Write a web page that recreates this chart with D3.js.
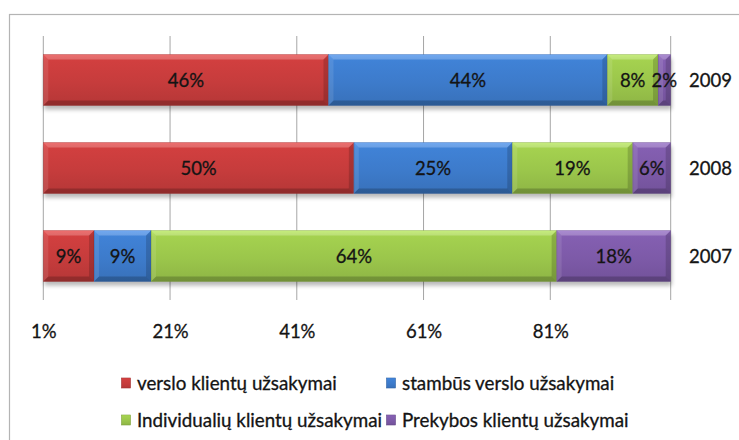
<!DOCTYPE html>
<html>
<head>
<meta charset="utf-8">
<script src="https://cdn.jsdelivr.net/npm/d3@7"></script>
<style>
  html, body { margin: 0; padding: 0; background: #fff; }
  svg { display: block; font-family: Lato, "Open Sans", sans-serif; }
  text { stroke: #141414; stroke-width: 0.3px; }
</style>
</head>
<body>
<svg id="chart" width="739" height="440"></svg>
<script>
// Years, top to bottom
const years = ["2009", "2008", "2007"];
// Order types (stack order, left to right)
const seriesNames = [
  "verslo klientų užsakymai",
  "stambūs verslo užsakymai",
  "Individualių klientų užsakymai",
  "Prekybos klientų užsakymai"
];
// Shares per year, in percent
const verslo      = [46, 50, 9];
const stambus     = [44, 25, 9];
const individual  = [8, 19, 64];
const prekybos    = [2, 6, 18];
// Axis tick values
const tickValues = [0.01, 0.21, 0.41, 0.61, 0.81];
const gridValues = [0.01, 0.21, 0.41, 0.61, 0.81, 1.0];

const colors = ["#c63c3c", "#3d7bcb", "#9bc64b", "#7d5aa8"];
const seriesValues = [verslo, stambus, individual, prekybos];

const rows = years.map((y, i) => {
  const r = { year: y };
  seriesNames.forEach((s, k) => r[s] = seriesValues[k][i] / 100);
  return r;
});
const stacked = d3.stack().keys(seriesNames)(rows);

const svg = d3.select("#chart");
const defs = svg.append("defs");

// Chart frame
svg.append("rect")
  .attr("x", 9.5).attr("y", 14.5)
  .attr("width", 760).attr("height", 460)
  .attr("fill", "#fff").attr("stroke", "#b4b4b4").attr("stroke-width", 1.2);

const x = d3.scaleLinear().domain([0.01, 1.0]).range([43.3, 670.7]).clamp(true);
const y = d3.scaleBand().domain(years).range([36, 300])
  .paddingInner(0.42).paddingOuter(0.21);

// gradients
colors.forEach((c, i) => {
  const g = defs.append("linearGradient").attr("id", "grad" + i)
    .attr("x1", 0).attr("y1", 0).attr("x2", 0).attr("y2", 1);
  const base = d3.color(c);
  g.append("stop").attr("offset", "0%").attr("stop-color", base.brighter(0.45));
  g.append("stop").attr("offset", "12%").attr("stop-color", base.brighter(0.15));
  g.append("stop").attr("offset", "55%").attr("stop-color", base);
  g.append("stop").attr("offset", "100%").attr("stop-color", base.darker(0.25));
});
const blur = defs.append("filter").attr("id", "shadow")
  .attr("x", "-5%").attr("y", "-50%").attr("width", "110%").attr("height", "200%");
blur.append("feGaussianBlur").attr("stdDeviation", 2);

// Gridlines
svg.append("g").selectAll("line").data(gridValues).join("line")
  .attr("x1", d => x(d)).attr("x2", d => x(d))
  .attr("y1", 36).attr("y2", 300)
  .attr("stroke", "#a6a6a6").attr("stroke-width", 1);

// Bar shadows
svg.append("g").selectAll("rect").data(years).join("rect")
  .attr("x", x(0) + 1).attr("y", d => y(d) + 4)
  .attr("width", x(1) - x(0)).attr("height", y.bandwidth())
  .attr("fill", "#000").attr("opacity", 0.28)
  .attr("filter", "url(#shadow)");

// Bars with bevelled edges
const b = 5;
stacked.forEach((layer, i) => {
  const g = svg.append("g");
  layer.forEach(d => {
    const x0 = x(d[0]), x1 = x(d[1]);
    const y0 = y(d.data.year), y1 = y0 + y.bandwidth();
    const w = x1 - x0;
    const bb = Math.min(b, w / 2);
    g.append("rect").attr("x", x0).attr("y", y0).attr("width", w).attr("height", y1 - y0)
      .attr("fill", `url(#grad${i})`);
    const poly = (pts, fill, op) => g.append("polygon")
      .attr("points", pts.map(p => p.join(",")).join(" "))
      .attr("fill", fill).attr("opacity", op);
    poly([[x0, y0], [x1, y0], [x1 - bb, y0 + bb], [x0 + bb, y0 + bb]], "#fff", 0.22);
    poly([[x0, y1], [x1, y1], [x1 - bb, y1 - bb], [x0 + bb, y1 - bb]], "#000", 0.2);
    poly([[x0, y0], [x0 + bb, y0 + bb], [x0 + bb, y1 - bb], [x0, y1]], "#fff", 0.1);
    poly([[x1, y0], [x1 - bb, y0 + bb], [x1 - bb, y1 - bb], [x1, y1]], "#000", 0.16);
    g.append("rect").attr("x", x0 + 0.25).attr("y", y0 + 0.25)
      .attr("width", Math.max(0, w - 0.5)).attr("height", y1 - y0 - 0.5)
      .attr("fill", "none").attr("stroke", d3.color(colors[i]).darker(0.8))
      .attr("stroke-width", 0.5).attr("opacity", 0.6);
  });
});

// Value labels
stacked.forEach(layer => {
  svg.append("g").selectAll("text").data(layer).join("text")
    .attr("x", d => (x(d[0]) + x(d[1])) / 2)
    .attr("y", d => y(d.data.year) + y.bandwidth() / 2)
    .attr("dy", "0.36em")
    .attr("text-anchor", "middle")
    .attr("font-size", 18.5)
    .attr("fill", "#141414")
    .text(d => Math.round((d[1] - d[0]) * 100) + "%");
});

// Year labels at the right
svg.append("g").selectAll("text").data(years).join("text")
  .attr("x", 689).attr("y", d => y(d) + y.bandwidth() / 2)
  .attr("dy", "0.36em")
  .attr("font-size", 18.5).attr("fill", "#141414")
  .text(d => d);

// Bottom axis labels
const axis = d3.axisBottom(x).tickValues(tickValues)
  .tickFormat(d3.format(".0%")).tickSize(0).tickPadding(0);
const ag = svg.append("g").attr("transform", "translate(0,325)").call(axis);
ag.select(".domain").remove();
ag.selectAll("text").attr("font-size", 18.5).attr("font-family", "Lato, sans-serif")
  .attr("fill", "#141414").attr("dy", "0.7em");

// Legend
const legendPos = [[121.5, 383], [386.5, 383], [121.5, 420], [386.5, 420]];
const lg = svg.append("g");
seriesNames.forEach((s, i) => {
  const [lx, ly] = legendPos[i];
  lg.append("rect").attr("x", lx).attr("y", ly - 5).attr("width", 9).attr("height", 10)
    .attr("fill", `url(#grad${i})`)
    .attr("stroke", d3.color(colors[i]).darker(0.6)).attr("stroke-width", 0.6);
  lg.append("text").attr("x", lx + 15.5).attr("y", ly).attr("dy", "0.36em")
    .attr("font-size", 18.8).attr("fill", "#141414").text(s);
});
</script>
</body>
</html>
